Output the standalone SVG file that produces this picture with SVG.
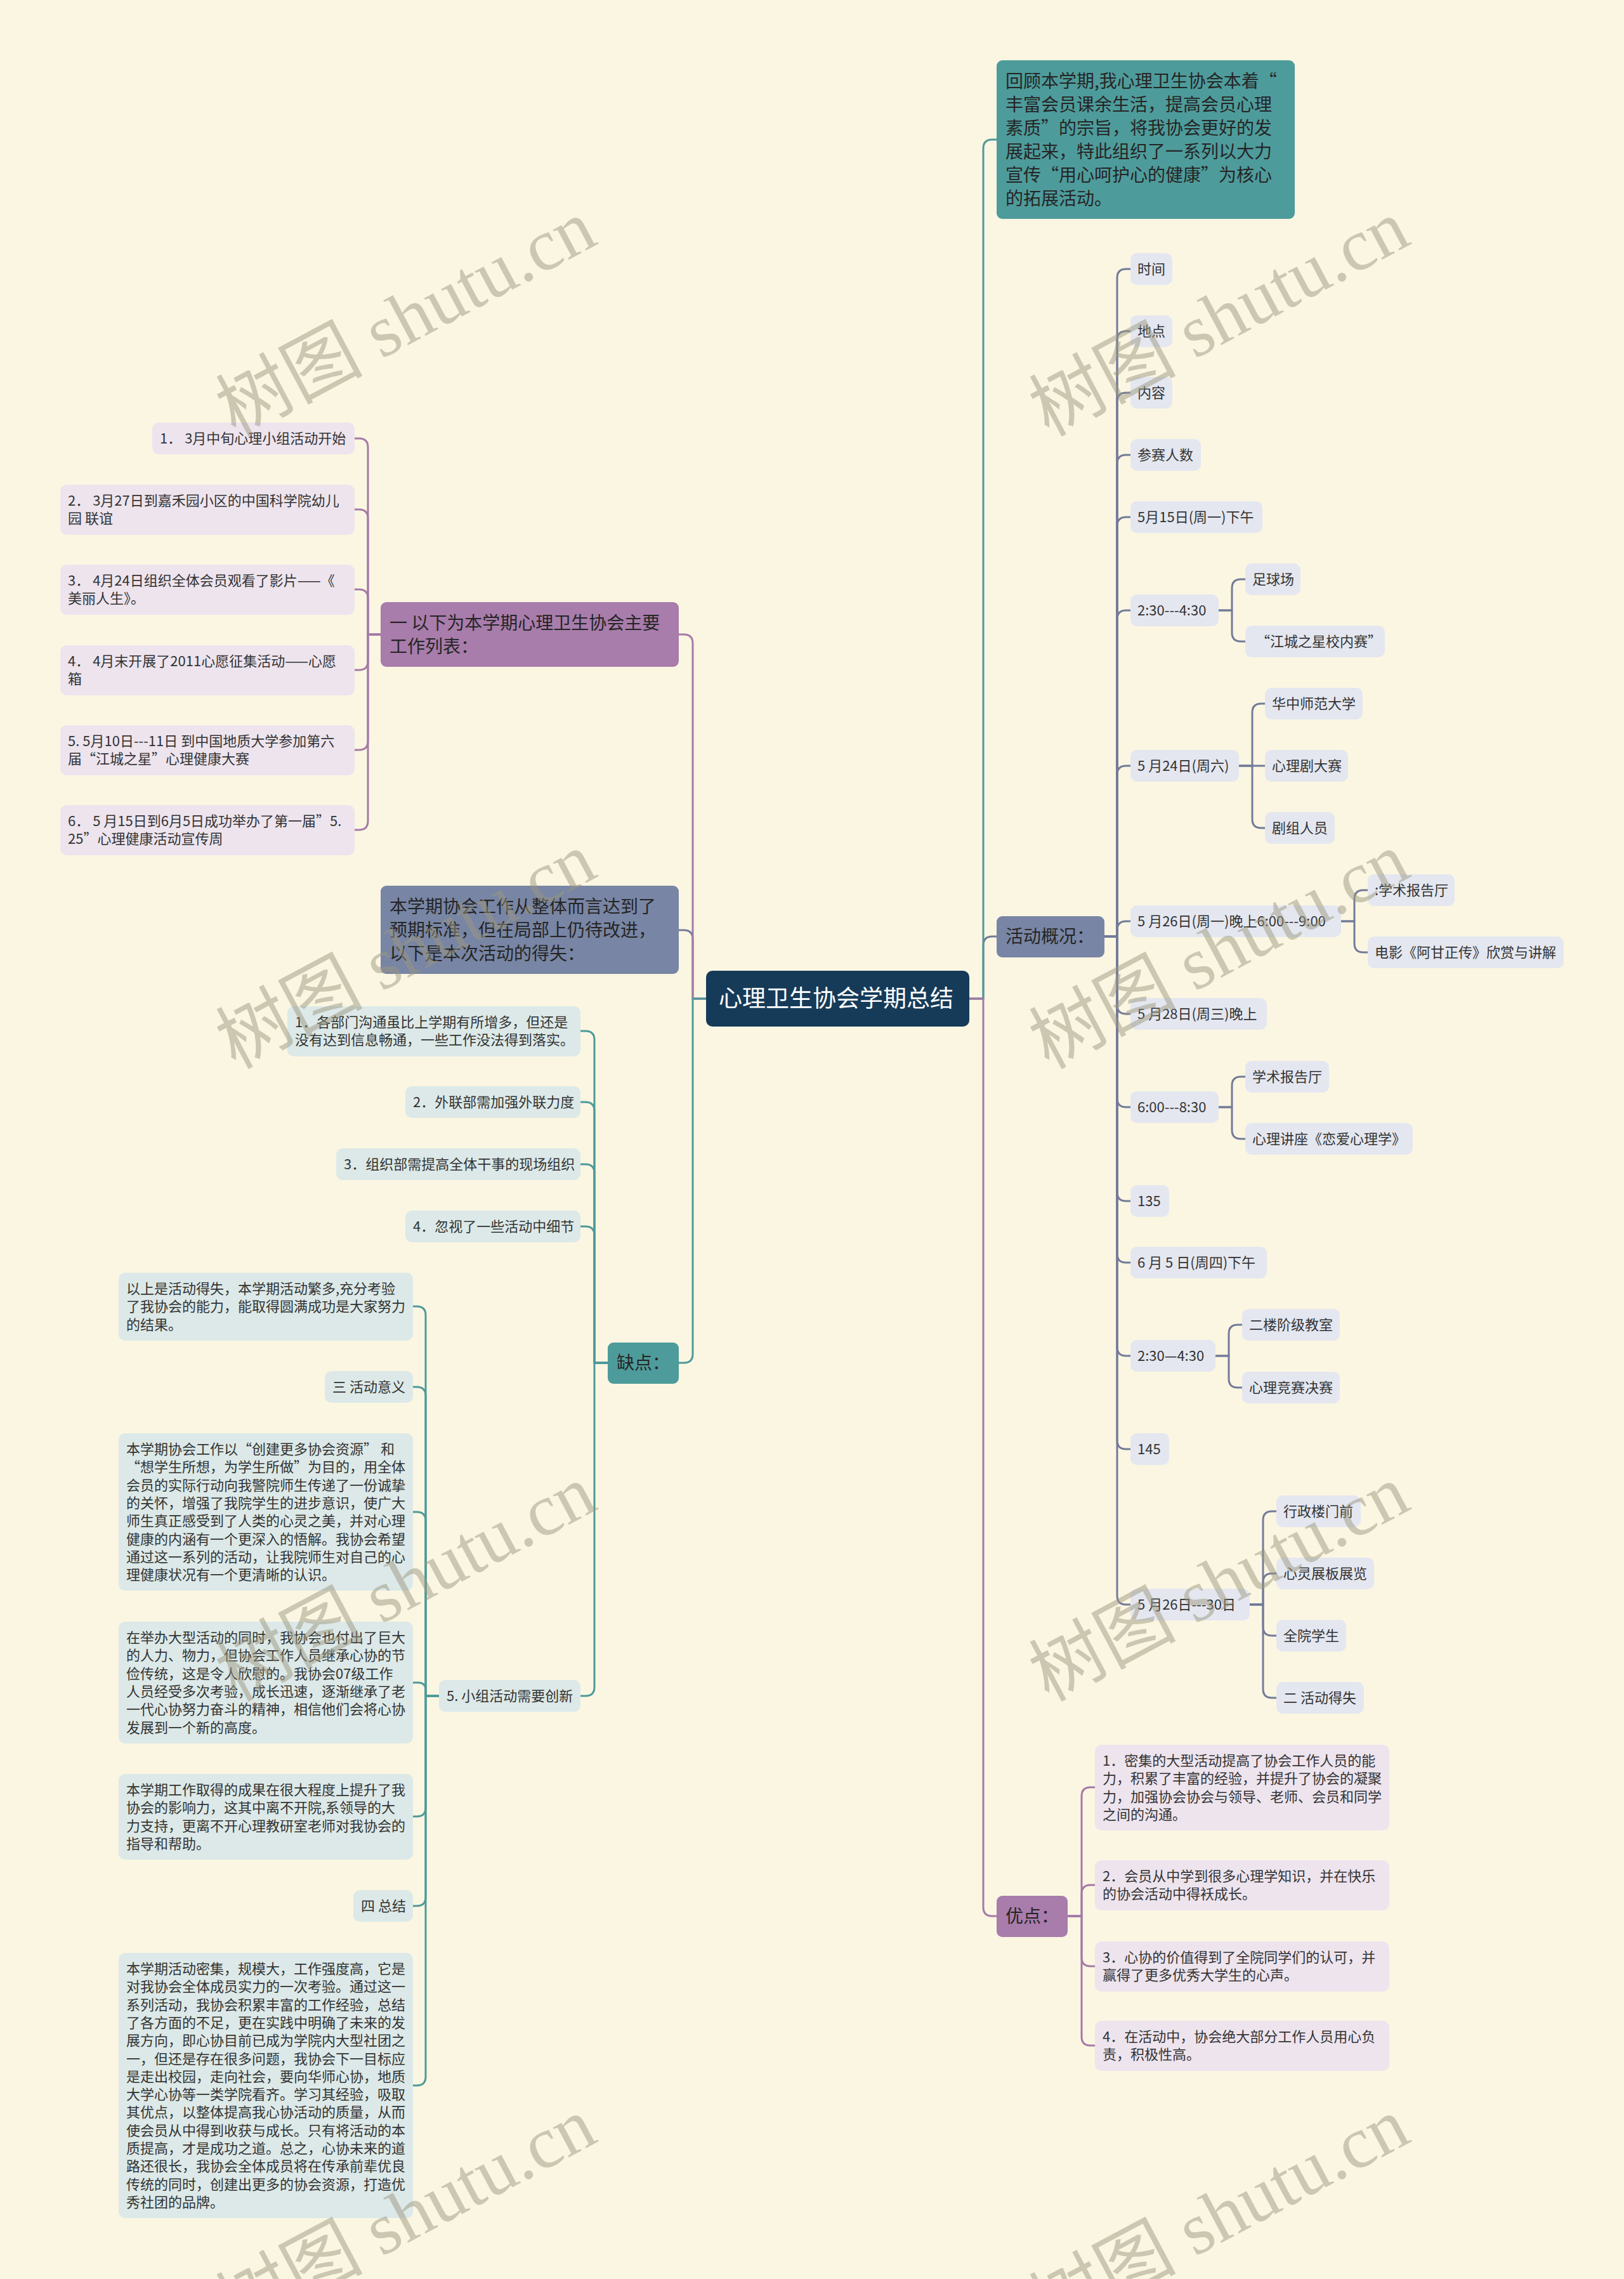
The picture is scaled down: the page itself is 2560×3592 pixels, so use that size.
<svg xmlns="http://www.w3.org/2000/svg" width="2560" height="3592" viewBox="0 0 2560 3592">
<style>
text{font-family:"Noto Sans CJK SC","Liberation Sans",sans-serif;}
.s{font-size:22px;fill:#333333;}
.m{font-size:28px;fill:#252525;}
.r{font-size:37px;fill:#ffffff;}
.cp{fill:#EDE4EE;}
.cb{fill:#E4E7F0;}
.ct{fill:#DCE9E8;}
.lt{fill:#4E9B9B;}
.ls{fill:#7885A4;}
.lp{fill:#A87CAB;}
.ln{fill:none;stroke-width:3;stroke-linecap:round;stroke-linejoin:round;}
.kt{stroke:#4E9A9A;}
.ks{stroke:#737B98;}
.kp{stroke:#A47AA7;}
.wm{font-family:"Liberation Serif","Noto Sans CJK SC",serif;font-size:116px;fill:#9C977F;fill-opacity:0.5;}
</style>
<rect x="0" y="0" width="2560" height="3592" fill="#FBF6E2"/>

<g id="connectors">
<path class="ln ks" stroke-width="3.5" d="M1528 1574 H1550 V1490 Q1550 1476 1564 1476 H1571"/>
<path class="ln kt" stroke-width="3.5" d="M1528 1574 H1550 V234 Q1550 220 1564 220 H1571"/>
<path class="ln kp" stroke-width="3.5" d="M1528 1574 H1550 V3006 Q1550 3020 1564 3020 H1571"/>
<path class="ln ks" stroke-width="3.5" d="M1113 1574 H1092 V1480 Q1092 1466 1078 1466 H1070"/>
<path class="ln kp" stroke-width="3.5" d="M1113 1574 H1092 V1014 Q1092 1000 1078 1000 H1070"/>
<path class="ln kt" stroke-width="3.5" d="M1113 1574 H1092 V2134 Q1092 2148 1078 2148 H1070"/>
<path class="ln ks" d="M1741 1476 H1761 V438 Q1761 424 1775 424 H1782"/>
<path class="ln ks" d="M1741 1476 H1761 V536 Q1761 522 1775 522 H1782"/>
<path class="ln ks" d="M1741 1476 H1761 V633 Q1761 619 1775 619 H1782"/>
<path class="ln ks" d="M1741 1476 H1761 V731 Q1761 717 1775 717 H1782"/>
<path class="ln ks" d="M1741 1476 H1761 V829 Q1761 815 1775 815 H1782"/>
<path class="ln ks" d="M1741 1476 H1761 V976 Q1761 962 1775 962 H1782"/>
<path class="ln ks" d="M1741 1476 H1761 V1221 Q1761 1207 1775 1207 H1782"/>
<path class="ln ks" d="M1741 1476 H1761 V1466 Q1761 1452 1775 1452 H1782"/>
<path class="ln ks" d="M1741 1476 H1761 V1584 Q1761 1598 1775 1598 H1782"/>
<path class="ln ks" d="M1741 1476 H1761 V1731 Q1761 1745 1775 1745 H1782"/>
<path class="ln ks" d="M1741 1476 H1761 V1879 Q1761 1893 1775 1893 H1782"/>
<path class="ln ks" d="M1741 1476 H1761 V1976 Q1761 1990 1775 1990 H1782"/>
<path class="ln ks" d="M1741 1476 H1761 V2123 Q1761 2137 1775 2137 H1782"/>
<path class="ln ks" d="M1741 1476 H1761 V2270 Q1761 2284 1775 2284 H1782"/>
<path class="ln ks" d="M1741 1476 H1761 V2515 Q1761 2529 1775 2529 H1782"/>
<path class="ln ks" d="M1921 962 H1942 V927 Q1942 913 1956 913 H1963"/>
<path class="ln ks" d="M1921 962 H1942 V997 Q1942 1011 1956 1011 H1963"/>
<path class="ln ks" d="M1953 1207 H1974 V1123 Q1974 1109 1988 1109 H1994"/>
<path class="ln ks" d="M1953 1207 H1994"/>
<path class="ln ks" d="M1953 1207 H1974 V1291 Q1974 1305 1988 1305 H1994"/>
<path class="ln ks" d="M2114 1452 H2135 V1417 Q2135 1403 2149 1403 H2156"/>
<path class="ln ks" d="M2114 1452 H2135 V1487 Q2135 1501 2149 1501 H2156"/>
<path class="ln ks" d="M1921 1745 H1942 V1711 Q1942 1697 1956 1697 H1963"/>
<path class="ln ks" d="M1921 1745 H1942 V1781 Q1942 1795 1956 1795 H1963"/>
<path class="ln ks" d="M1916 2137 H1937 V2102 Q1937 2088 1951 2088 H1958"/>
<path class="ln ks" d="M1916 2137 H1937 V2173 Q1937 2187 1951 2187 H1958"/>
<path class="ln ks" d="M1970 2529 H1991 V2396 Q1991 2382 2005 2382 H2012"/>
<path class="ln ks" d="M1970 2529 H1991 V2494 Q1991 2480 2005 2480 H2012"/>
<path class="ln ks" d="M1970 2529 H1991 V2564 Q1991 2578 2005 2578 H2012"/>
<path class="ln ks" d="M1970 2529 H1991 V2662 Q1991 2676 2005 2676 H2012"/>
<path class="ln kp" d="M1683 3020 H1705 V2831 Q1705 2817 1719 2817 H1726"/>
<path class="ln kp" d="M1683 3020 H1705 V2985 Q1705 2971 1719 2971 H1726"/>
<path class="ln kp" d="M1683 3020 H1705 V3085 Q1705 3099 1719 3099 H1726"/>
<path class="ln kp" d="M1683 3020 H1705 V3210 Q1705 3224 1719 3224 H1726"/>
<path class="ln kp" d="M600 1000 H580 V705 Q580 691 566 691 H559"/>
<path class="ln kp" d="M600 1000 H580 V817 Q580 803 566 803 H559"/>
<path class="ln kp" d="M600 1000 H580 V943 Q580 929 566 929 H559"/>
<path class="ln kp" d="M600 1000 H580 V1042 Q580 1056 566 1056 H559"/>
<path class="ln kp" d="M600 1000 H580 V1168 Q580 1182 566 1182 H559"/>
<path class="ln kp" d="M600 1000 H580 V1294 Q580 1308 566 1308 H559"/>
<path class="ln kt" d="M958 2148 H937 V1639 Q937 1625 923 1625 H915"/>
<path class="ln kt" d="M958 2148 H937 V1751 Q937 1737 923 1737 H915"/>
<path class="ln kt" d="M958 2148 H937 V1849 Q937 1835 923 1835 H915"/>
<path class="ln kt" d="M958 2148 H937 V1947 Q937 1933 923 1933 H915"/>
<path class="ln kt" d="M958 2148 H937 V2659 Q937 2673 923 2673 H915"/>
<path class="ln kt" d="M692 2673 H671 V2073 Q671 2059 657 2059 H651"/>
<path class="ln kt" d="M692 2673 H671 V2200 Q671 2186 657 2186 H651"/>
<path class="ln kt" d="M692 2673 H671 V2397 Q671 2383 657 2383 H651"/>
<path class="ln kt" d="M692 2673 H671 V2664 Q671 2652 659 2652 H651"/>
<path class="ln kt" d="M692 2673 H671 V2849 Q671 2863 657 2863 H651"/>
<path class="ln kt" d="M692 2673 H671 V2990 Q671 3004 657 3004 H651"/>
<path class="ln kt" d="M692 2673 H671 V3273 Q671 3287 657 3287 H651"/>
</g>

<g id="root"><rect x="1113" y="1530" width="415" height="88" rx="10" fill="#163B59"/><text class="r" x="1133" y="1587">心理卫生协会学期总结</text></g>

<g id="n-top"><rect class="lt" x="1571" y="95" width="470" height="250" rx="9"/>
<text class="m" x="1585"><tspan x="1585" y="137.5">回顾本学期,我心理卫生协会本着“</tspan><tspan x="1585" y="174.5">丰富会员课余生活，提高会员心理</tspan><tspan x="1585" y="211.5">素质”的宗旨，将我协会更好的发</tspan><tspan x="1585" y="248.5">展起来，特此组织了一系列以大力</tspan><tspan x="1585" y="285.5">宣传“用心呵护心的健康”为核心</tspan><tspan x="1585" y="322.5">的拓展活动。</tspan></text></g>

<g id="n-gk"><rect class="ls" x="1571" y="1444" width="170" height="65" rx="9"/><text class="m" x="1585" y="1486">活动概况：</text></g>
<g id="n-yd"><rect class="lp" x="1571" y="2988" width="112" height="65" rx="9"/><text class="m" x="1585" y="3030">优点：</text></g>
<g id="n-yi"><rect class="lp" x="600" y="949" width="470" height="102" rx="9"/><text class="m"><tspan x="614" y="991.5">一 以下为本学期心理卫生协会主要</tspan><tspan x="614" y="1028.5">工作列表：</tspan></text></g>
<g id="n-bxq"><rect class="ls" x="600" y="1396" width="470" height="139" rx="9"/><text class="m"><tspan x="614" y="1438.5">本学期协会工作从整体而言达到了</tspan><tspan x="614" y="1475.5">预期标准，但在局部上仍待改进，</tspan><tspan x="614" y="1512.5">以下是本次活动的得失：</tspan></text></g>
<g id="n-qd"><rect class="lt" x="958" y="2116" width="112" height="65" rx="9"/><text class="m" x="972" y="2158">缺点：</text></g>

<g id="n-sj"><rect class="cb" x="1782" y="399" width="66" height="50" rx="10"/><text class="s" x="1793" y="432">时间</text></g>
<g id="n-dd"><rect class="cb" x="1782" y="497" width="66" height="50" rx="10"/><text class="s" x="1793" y="530">地点</text></g>
<g id="n-nr"><rect class="cb" x="1782" y="594" width="66" height="50" rx="10"/><text class="s" x="1793" y="627">内容</text></g>
<g id="n-csrs"><rect class="cb" x="1782" y="692" width="111" height="50" rx="10"/><text class="s" x="1793" y="725">参赛人数</text></g>
<g id="n-515"><rect class="cb" x="1782" y="790" width="208" height="50" rx="10"/><text class="s" x="1793" y="823">5月15日(周一)下午</text></g>
<g id="n-230a"><rect class="cb" x="1782" y="937" width="139" height="50" rx="10"/><text class="s" x="1793" y="970">2:30---4:30</text></g>
<g id="n-zqc"><rect class="cb" x="1963" y="888" width="87" height="50" rx="10"/><text class="s" x="1974" y="921">足球场</text></g>
<g id="n-jczx"><rect class="cb" x="1963" y="986" width="220" height="50" rx="10"/><text class="s" x="1980" y="1019">“江城之星校内赛”</text></g>
<g id="n-524"><rect class="cb" x="1782" y="1182" width="171" height="50" rx="10"/><text class="s" x="1793" y="1215">5 月24日(周六)</text></g>
<g id="n-hzsf"><rect class="cb" x="1994" y="1084" width="154" height="50" rx="10"/><text class="s" x="2005" y="1117">华中师范大学</text></g>
<g id="n-xljds"><rect class="cb" x="1994" y="1182" width="131" height="50" rx="10"/><text class="s" x="2005" y="1215">心理剧大赛</text></g>
<g id="n-jzry"><rect class="cb" x="1994" y="1280" width="110" height="50" rx="10"/><text class="s" x="2005" y="1313">剧组人员</text></g>
<g id="n-526w"><rect class="cb" x="1782" y="1427" width="332" height="50" rx="10"/><text class="s" x="1793" y="1460">5 月26日(周一)晚上6:00---9:00</text></g>
<g id="n-xsbgt1"><rect class="cb" x="2156" y="1378" width="137" height="50" rx="10"/><text class="s" x="2167" y="1411">:学术报告厅</text></g>
<g id="n-dy"><rect class="cb" x="2156" y="1476" width="309" height="50" rx="10"/><text class="s" x="2167" y="1509">电影《阿甘正传》欣赏与讲解</text></g>
<g id="n-528"><rect class="cb" x="1782" y="1573" width="215" height="50" rx="10"/><text class="s" x="1793" y="1606">5 月28日(周三)晚上</text></g>
<g id="n-600"><rect class="cb" x="1782" y="1720" width="139" height="50" rx="10"/><text class="s" x="1793" y="1753">6:00---8:30</text></g>
<g id="n-xsbgt2"><rect class="cb" x="1963" y="1672" width="132" height="50" rx="10"/><text class="s" x="1974" y="1705">学术报告厅</text></g>
<g id="n-xljz"><rect class="cb" x="1963" y="1770" width="264" height="50" rx="10"/><text class="s" x="1974" y="1803">心理讲座《恋爱心理学》</text></g>
<g id="n-135"><rect class="cb" x="1782" y="1868" width="61" height="50" rx="10"/><text class="s" x="1793" y="1901">135</text></g>
<g id="n-65"><rect class="cb" x="1782" y="1965" width="215" height="50" rx="10"/><text class="s" x="1793" y="1998">6 月 5 日(周四)下午</text></g>
<g id="n-230b"><rect class="cb" x="1782" y="2112" width="134" height="50" rx="10"/><text class="s" x="1793" y="2145">2:30—4:30</text></g>
<g id="n-elj"><rect class="cb" x="1958" y="2063" width="154" height="50" rx="10"/><text class="s" x="1969" y="2096">二楼阶级教室</text></g>
<g id="n-xljs"><rect class="cb" x="1958" y="2162" width="154" height="50" rx="10"/><text class="s" x="1969" y="2195">心理竞赛决赛</text></g>
<g id="n-145"><rect class="cb" x="1782" y="2259" width="61" height="50" rx="10"/><text class="s" x="1793" y="2292">145</text></g>
<g id="n-52630"><rect class="cb" x="1782" y="2504" width="188" height="50" rx="10"/><text class="s" x="1793" y="2537">5 月26日---30日</text></g>
<g id="n-xzl"><rect class="cb" x="2012" y="2357" width="133" height="50" rx="10"/><text class="s" x="2023" y="2390">行政楼门前</text></g>
<g id="n-xlzb"><rect class="cb" x="2012" y="2455" width="154" height="50" rx="10"/><text class="s" x="2023" y="2488">心灵展板展览</text></g>
<g id="n-qyxs"><rect class="cb" x="2012" y="2553" width="110" height="50" rx="10"/><text class="s" x="2023" y="2586">全院学生</text></g>
<g id="n-hdds"><rect class="cb" x="2012" y="2651" width="138" height="50" rx="10"/><text class="s" x="2023" y="2684">二 活动得失</text></g>

<g id="n-yd1"><rect class="cp" x="1726" y="2750" width="464" height="135" rx="10"/><text class="s"><tspan x="1738" y="2783">1．密集的大型活动提高了协会工作人员的能</tspan><tspan x="1738" y="2811.3">力，积累了丰富的经验，并提升了协会的凝聚</tspan><tspan x="1738" y="2839.6">力，加强协会协会与领导、老师、会员和同学</tspan><tspan x="1738" y="2867.9">之间的沟通。</tspan></text></g>
<g id="n-yd2"><rect class="cp" x="1726" y="2932" width="464" height="79" rx="10"/><text class="s"><tspan x="1738" y="2965">2．会员从中学到很多心理学知识，并在快乐</tspan><tspan x="1738" y="2993.3">的协会活动中得袄成长。</tspan></text></g>
<g id="n-yd3"><rect class="cp" x="1726" y="3060" width="464" height="79" rx="10"/><text class="s"><tspan x="1738" y="3093">3．心协的价值得到了全院同学们的认可，并</tspan><tspan x="1738" y="3121.3">赢得了更多优秀大学生的心声。</tspan></text></g>
<g id="n-yd4"><rect class="cp" x="1726" y="3185" width="464" height="79" rx="10"/><text class="s"><tspan x="1738" y="3218">4．在活动中，协会绝大部分工作人员用心负</tspan><tspan x="1738" y="3246.3">责，积极性高。</tspan></text></g>

<g id="n-w1"><rect class="cp" x="240" y="666" width="319" height="50" rx="10"/><text class="s" x="252" y="699">1． 3月中旬心理小组活动开始</text></g>
<g id="n-w2"><rect class="cp" x="95" y="764" width="464" height="79" rx="10"/><text class="s"><tspan x="107" y="797">2． 3月27日到嘉禾园小区的中国科学院幼儿</tspan><tspan x="107" y="825.3">园 联谊</tspan></text></g>
<g id="n-w3"><rect class="cp" x="95" y="890" width="464" height="79" rx="10"/><text class="s"><tspan x="107" y="923">3． 4月24日组织全体会员观看了影片——《</tspan><tspan x="107" y="951.3">美丽人生》。</tspan></text></g>
<g id="n-w4"><rect class="cp" x="95" y="1017" width="464" height="79" rx="10"/><text class="s"><tspan x="107" y="1050">4． 4月末开展了2011心愿征集活动——心愿</tspan><tspan x="107" y="1078.3">箱</tspan></text></g>
<g id="n-w5"><rect class="cp" x="95" y="1143" width="464" height="79" rx="10"/><text class="s"><tspan x="107" y="1176">5. 5月10日---11日 到中国地质大学参加第六</tspan><tspan x="107" y="1204.3">届“江城之星”心理健康大赛</tspan></text></g>
<g id="n-w6"><rect class="cp" x="95" y="1269" width="464" height="79" rx="10"/><text class="s"><tspan x="107" y="1302">6． 5 月15日到6月5日成功举办了第一届”5.</tspan><tspan x="107" y="1330.3">25”心理健康活动宣传周</tspan></text></g>

<g id="n-q1"><rect class="ct" x="453" y="1586" width="462" height="79" rx="10"/><text class="s"><tspan x="465" y="1619">1．各部门沟通虽比上学期有所增多，但还是</tspan><tspan x="465" y="1647.3">没有达到信息畅通，一些工作没法得到落实。</tspan></text></g>
<g id="n-q2"><rect class="ct" x="639" y="1712" width="276" height="50" rx="10"/><text class="s" x="651" y="1745">2．外联部需加强外联力度</text></g>
<g id="n-q3"><rect class="ct" x="530" y="1810" width="385" height="50" rx="10"/><text class="s" x="542" y="1843">3．组织部需提高全体干事的现场组织</text></g>
<g id="n-q4"><rect class="ct" x="639" y="1908" width="276" height="50" rx="10"/><text class="s" x="651" y="1941">4．忽视了一些活动中细节</text></g>
<g id="n-q5"><rect class="ct" x="692" y="2648" width="223" height="50" rx="10"/><text class="s" x="704" y="2681">5. 小组活动需要创新</text></g>

<g id="n-c1"><rect class="ct" x="187" y="2006" width="464" height="107" rx="10"/><text class="s"><tspan x="199" y="2039">以上是活动得失，本学期活动繁多,充分考验</tspan><tspan x="199" y="2067.3">了我协会的能力，能取得圆满成功是大家努力</tspan><tspan x="199" y="2095.6">的结果。</tspan></text></g>
<g id="n-c2"><rect class="ct" x="512" y="2161" width="139" height="50" rx="10"/><text class="s" x="524" y="2194">三 活动意义</text></g>
<g id="n-c3"><rect class="ct" x="187" y="2259" width="464" height="248" rx="10"/><text class="s"><tspan x="199" y="2292">本学期协会工作以“创建更多协会资源”  和</tspan><tspan x="199" y="2320.3">“想学生所想，为学生所做”为目的，用全体</tspan><tspan x="199" y="2348.6">会员的实际行动向我警院师生传递了一份诚挚</tspan><tspan x="199" y="2376.9">的关怀，增强了我院学生的进步意识，使广大</tspan><tspan x="199" y="2405.2">师生真正感受到了人类的心灵之美，并对心理</tspan><tspan x="199" y="2433.5">健康的内涵有一个更深入的悟解。我协会希望</tspan><tspan x="199" y="2461.8">通过这一系列的活动，让我院师生对自己的心</tspan><tspan x="199" y="2490.1">理健康状况有一个更清晰的认识。</tspan></text></g>
<g id="n-c4"><rect class="ct" x="187" y="2556" width="464" height="192" rx="10"/><text class="s"><tspan x="199" y="2589">在举办大型活动的同时，我协会也付出了巨大</tspan><tspan x="199" y="2617.3">的人力、物力，但协会工作人员继承心协的节</tspan><tspan x="199" y="2645.6">俭传统，这是令人欣慰的。我协会07级工作</tspan><tspan x="199" y="2673.9">人员经受多次考验，成长迅速，逐渐继承了老</tspan><tspan x="199" y="2702.2">一代心协努力奋斗的精神，相信他们会将心协</tspan><tspan x="199" y="2730.5">发展到一个新的高度。</tspan></text></g>
<g id="n-c5"><rect class="ct" x="187" y="2796" width="464" height="135" rx="10"/><text class="s"><tspan x="199" y="2829">本学期工作取得的成果在很大程度上提升了我</tspan><tspan x="199" y="2857.3">协会的影响力，这其中离不开院,系领导的大</tspan><tspan x="199" y="2885.6">力支持，更离不开心理教研室老师对我协会的</tspan><tspan x="199" y="2913.9">指导和帮助。</tspan></text></g>
<g id="n-c6"><rect class="ct" x="557" y="2979" width="94" height="50" rx="10"/><text class="s" x="569" y="3012">四 总结</text></g>
<g id="n-c7"><rect class="ct" x="187" y="3078" width="464" height="418" rx="10"/><text class="s"><tspan x="199" y="3111">本学期活动密集，规模大，工作强度高，它是</tspan><tspan x="199" y="3139.3">对我协会全体成员实力的一次考验。通过这一</tspan><tspan x="199" y="3167.6">系列活动，我协会积累丰富的工作经验，总结</tspan><tspan x="199" y="3195.9">了各方面的不足，更在实践中明确了未来的发</tspan><tspan x="199" y="3224.2">展方向，即心协目前已成为学院内大型社团之</tspan><tspan x="199" y="3252.5">一，但还是存在很多问题，我协会下一目标应</tspan><tspan x="199" y="3280.8">是走出校园，走向社会，要向华师心协，地质</tspan><tspan x="199" y="3309.1">大学心协等一类学院看齐。学习其经验，吸取</tspan><tspan x="199" y="3337.4">其优点，以整体提高我心协活动的质量，从而</tspan><tspan x="199" y="3365.7">使会员从中得到收获与成长。只有将活动的本</tspan><tspan x="199" y="3394">质提高，才是成功之道。总之，心协未来的道</tspan><tspan x="199" y="3422.3">路还很长，我协会全体成员将在传承前辈优良</tspan><tspan x="199" y="3450.6">传统的同时，创建出更多的协会资源，打造优</tspan><tspan x="199" y="3478.9">秀社团的品牌。</tspan></text></g>

<g id="watermarks">
<text class="wm" text-anchor="middle" transform="translate(658 536) rotate(-28)">树图 shutu.cn</text>
<text class="wm" text-anchor="middle" transform="translate(1940 536) rotate(-28)">树图 shutu.cn</text>
<text class="wm" text-anchor="middle" transform="translate(658 1533) rotate(-28)">树图 shutu.cn</text>
<text class="wm" text-anchor="middle" transform="translate(1940 1533) rotate(-28)">树图 shutu.cn</text>
<text class="wm" text-anchor="middle" transform="translate(658 2530) rotate(-28)">树图 shutu.cn</text>
<text class="wm" text-anchor="middle" transform="translate(1940 2530) rotate(-28)">树图 shutu.cn</text>
<text class="wm" text-anchor="middle" transform="translate(658 3527) rotate(-28)">树图 shutu.cn</text>
<text class="wm" text-anchor="middle" transform="translate(1940 3527) rotate(-28)">树图 shutu.cn</text>
</g>
</svg>
